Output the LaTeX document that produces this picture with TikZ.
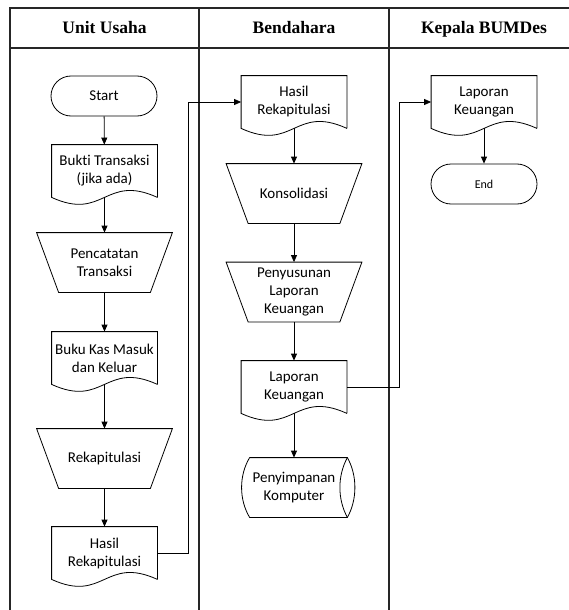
\documentclass[tikz,border=0pt]{standalone}
\usepackage{fontspec}
\setmainfont{Carlito}[Ligatures=NoCommon]
\newfontfamily\headfont{Liberation Serif}
\usetikzlibrary{arrows.meta}

\begin{document}
\begin{tikzpicture}[x=1pt, y=-1pt, line width=0.8pt,
	head/.style={anchor=base, font=\headfont\bfseries\fontsize{17.5}{20}\selectfont},
	lane/.style={line width=1.3pt, black!85},
	txt/.style={align=center, font=\fontsize{15}{18}\selectfont},
	term/.style={txt, draw, rounded corners=20pt, minimum width=106pt, minimum height=40pt},
	doc/.style={txt, minimum width=105pt, minimum height=52pt, inner sep=0pt},
	manual/.style={txt, minimum width=135pt, minimum height=59pt, inner sep=0pt},
	store/.style={txt, minimum width=97pt, minimum height=59pt, inner sep=0pt},
	arr/.style={-{Triangle[length=7pt,width=6pt]}}]
	\useasboundingbox (0,0) rectangle (569,610);

	% swimlanes
	\draw[lane] (10,610) -- (10,8) -- (569,8);
	\draw[lane] (10,48) -- (569,48);
	\draw[lane] (199,8) -- (199,610);
	\draw[lane] (389,8) -- (389,610);
	\node[head] (h1) at (104.5,34) {Unit Usaha};
	\node[head] (h2) at (294,34) {Bendahara};
	\node[head] (h3) at (484,34) {Kepala BUMDes};

	% Unit Usaha
	\node[term] (start) at (104,96) {Start};
	\node[doc] (bukti) at (104.5,171) {Bukti Transaksi\\(jika ada)};
	\node[manual] (catat) at (104.5,262.5) {Pencatatan\\Transaksi};
	\node[doc] (bukukas) at (104.5,358) {Buku Kas Masuk\\dan Keluar};
	\node[manual] (rekap) at (104.5,458.5) {Rekapitulasi};
	\node[doc] (hasilA) at (104.5,553) {Hasil\\Rekapitulasi};

	% Bendahara
	\node[doc] (hasilB) at (294,102) {Hasil\\Rekapitulasi};
	\node[manual] (konsol) at (294,193.5) {Konsolidasi};
	\node[manual] (susun) at (294,292) {Penyusunan\\Laporan\\Keuangan};
	\node[doc] (lapA) at (294,387) {Laporan\\Keuangan};
	\node[store] (simpan) at (294,487.5) {Penyimpanan\\Komputer};

	% Kepala BUMDes
	\node[doc] (lapB) at (484,102) {Laporan\\Keuangan};
	\node[term, font=\fontsize{12}{14}\selectfont] (finish) at (484,184) {End};

	% document outlines
	\foreach \d in {bukti,bukukas,hasilA,hasilB,lapA,lapB}
		\draw (\d.south east) -- (\d.north east) -- (\d.north west) -- (\d.south west)
			.. controls +(52.5,24) and +(-52.5,-24) .. (\d.south east);

	% manual operation outlines
	\foreach \m in {catat,rekap,konsol,susun}
		\draw (\m.north west) -- (\m.north east) -- ([xshift=-22pt]\m.south east)
			-- ([xshift=22pt]\m.south west) -- cycle;

	% stored data outline
	\draw ([xshift=4.5pt]simpan.north west) -- ([xshift=4.5pt]simpan.north east)
		.. controls +(10,18) and +(10,-18) .. ([xshift=4.5pt]simpan.south east)
		-- ([xshift=4.5pt]simpan.south west)
		.. controls +(-10.7,-18) and +(-10.7,18) .. ([xshift=4.5pt]simpan.north west);
	\draw ([xshift=4.5pt]simpan.south east) .. controls +(-10,-18) and +(-10,18) .. ([xshift=4.5pt]simpan.north east);

	% flow
	\draw[arr] (start) -- (bukti);
	\draw[arr] (bukti.south) -- (catat);
	\draw[arr] (catat) -- (bukukas);
	\draw[arr] (bukukas.south) -- (rekap);
	\draw[arr] (rekap) -- (hasilA);
	\draw[arr] (hasilA.east) -- ++(31,0) |- (hasilB.west);
	\draw[arr] (hasilB.south) -- (konsol);
	\draw[arr] (konsol) -- (susun);
	\draw[arr] (susun) -- (lapA);
	\draw[arr] (lapA.south) -- (simpan);
	\draw[arr] (lapA.east) -- ++(52,0) |- (lapB.west);
	\draw[arr] (lapB.south) -- (finish);
\end{tikzpicture}
\end{document}
